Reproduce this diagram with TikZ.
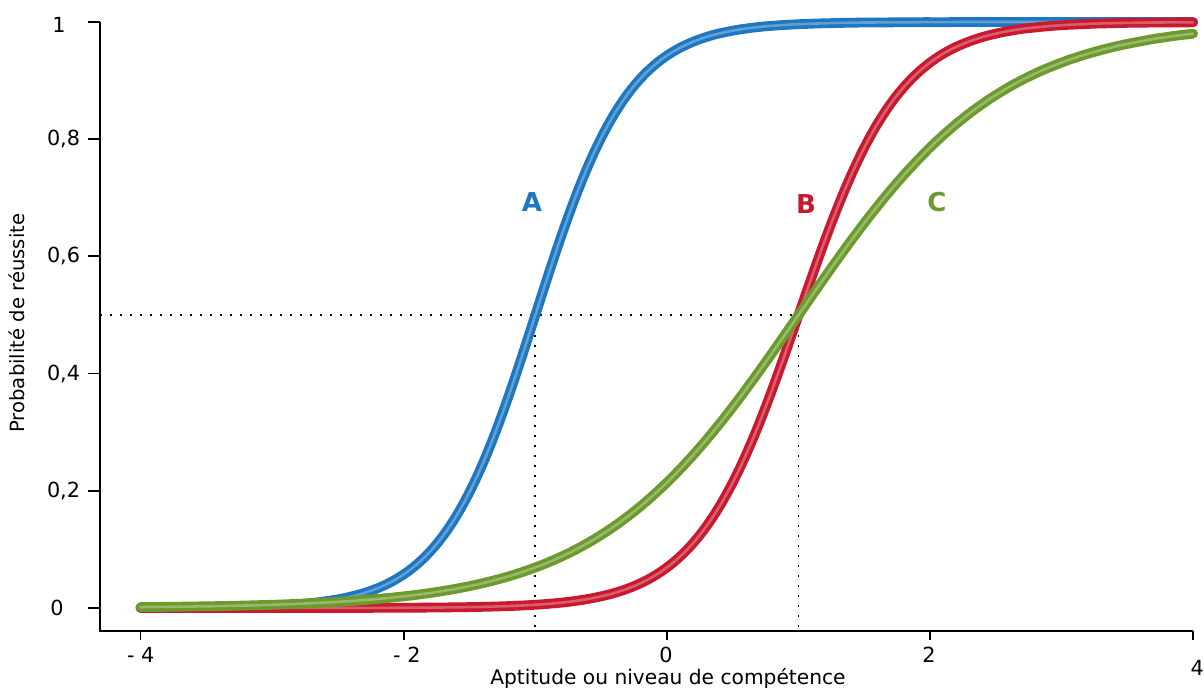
\documentclass[tikz,border=0pt]{standalone}
\usepackage{fontspec}
\setmainfont{DejaVu Sans}

\definecolor{bleuA}{HTML}{1E77C0}
\definecolor{rougeB}{HTML}{C8192F}
\definecolor{vertC}{HTML}{6C9A2D}

\begin{document}
\begin{tikzpicture}[x=65.8pt, y=293pt, font=\fontsize{10.4}{12}\selectfont,
  axe/.style={line width=0.9pt},
  repere/.style={line width=0.9pt, dash pattern=on 0.9pt off 4.1pt},
  courbe/.style={line width=1.8pt, line cap=round, draw=#1, double=#1!70!white, double distance=1.3pt},
  lettre/.style={font=\bfseries\fontsize{13}{15}\selectfont}]

\useasboundingbox (-5.068,-0.1365) rectangle (4.081,1.0375);

% axes
\coordinate (haut) at (-4.309,1);
\coordinate (coin) at (-4.309,-0.0392);
\coordinate (fin) at (3.997,-0.0392);
\draw[axe] (haut) -- (coin) -- (fin);

% graduations
\draw[axe] (-4.309,0) -- ++(-6pt,0);
\draw[axe] (-4.309,0.2) -- ++(-6pt,0);
\draw[axe] (-4.309,0.4) -- ++(-6pt,0);
\draw[axe] (-4.309,0.6) -- ++(-6pt,0);
\draw[axe] (-4.309,0.8) -- ++(-6pt,0);
\draw[axe] (-4.309,1) -- ++(-6pt,0);
\draw[axe] (-4,-0.0392) -- ++(0,-4.5pt);
\draw[axe] (-2,-0.0392) -- ++(0,-4.5pt);
\draw[axe] (0,-0.0392) -- ++(0,-4.5pt);
\draw[axe] (2,-0.0392) -- ++(0,-4.5pt);
\draw[axe] (3.997,-0.0392) -- ++(0,-4.5pt);

\node (p0) at (-4.635,0) {0};
\node (p2) at (-4.585,0.2) {0,2};
\node (p4) at (-4.585,0.4) {0,4};
\node (p6) at (-4.585,0.6) {0,6};
\node (p8) at (-4.585,0.8) {0,8};
\node (p10) at (-4.620,0.995) {1};

\node (xm4) at (-3.998,-0.0802) {- 4};
\node (xm2) at (-1.976,-0.0802) {- 2};
\node (x0) at (-0.008,-0.0802) {0};
\node (x2) at (1.992,-0.0802) {2};
\node (x4) at (4.03,-0.1024) {4};

\node[anchor=base, font=\fontsize{10.1}{12}\selectfont] (titrex) at (0.008,-0.1314) {Aptitude ou niveau de compétence};
\node[anchor=base, rotate=90, font=\fontsize{9.8}{12}\selectfont] (titrey) at (-4.878,0.486) {Probabilité de réussite};

% reperes a 0,5
\coordinate (milieu) at (-4.309,0.5);
\coordinate (mA) at (-1,0.5);
\coordinate (mB) at (1,0.5);
\coordinate (bA) at (-1,-0.0392);
\coordinate (bB) at (1,-0.0392);
\draw[repere] (milieu) -- (mB);
\draw[repere] (mA) -- (bA);
\draw[repere] (mB) -- (bB);

% courbes
\draw[courbe=bleuA] plot[domain=-4:4, samples=161, smooth] (\x, {1/(1+exp(min(9,-2.8*(\x+1))))});
\draw[courbe=rougeB] plot[domain=-4:4, samples=161, smooth] (\x, {1/(1+exp(min(9,-2.6*(\x-1))))});
\draw[courbe=vertC] plot[domain=-4:4, samples=161, smooth] (\x, {1/(1+exp(min(9,-1.3*(\x-1))))});

\node[lettre, text=bleuA] (A) at (-1.025,0.693) {A};
\node[lettre, text=rougeB] (B) at (1.056,0.689) {B};
\node[lettre, text=vertC] (C) at (2.052,0.692) {C};
\end{tikzpicture}
\end{document}
